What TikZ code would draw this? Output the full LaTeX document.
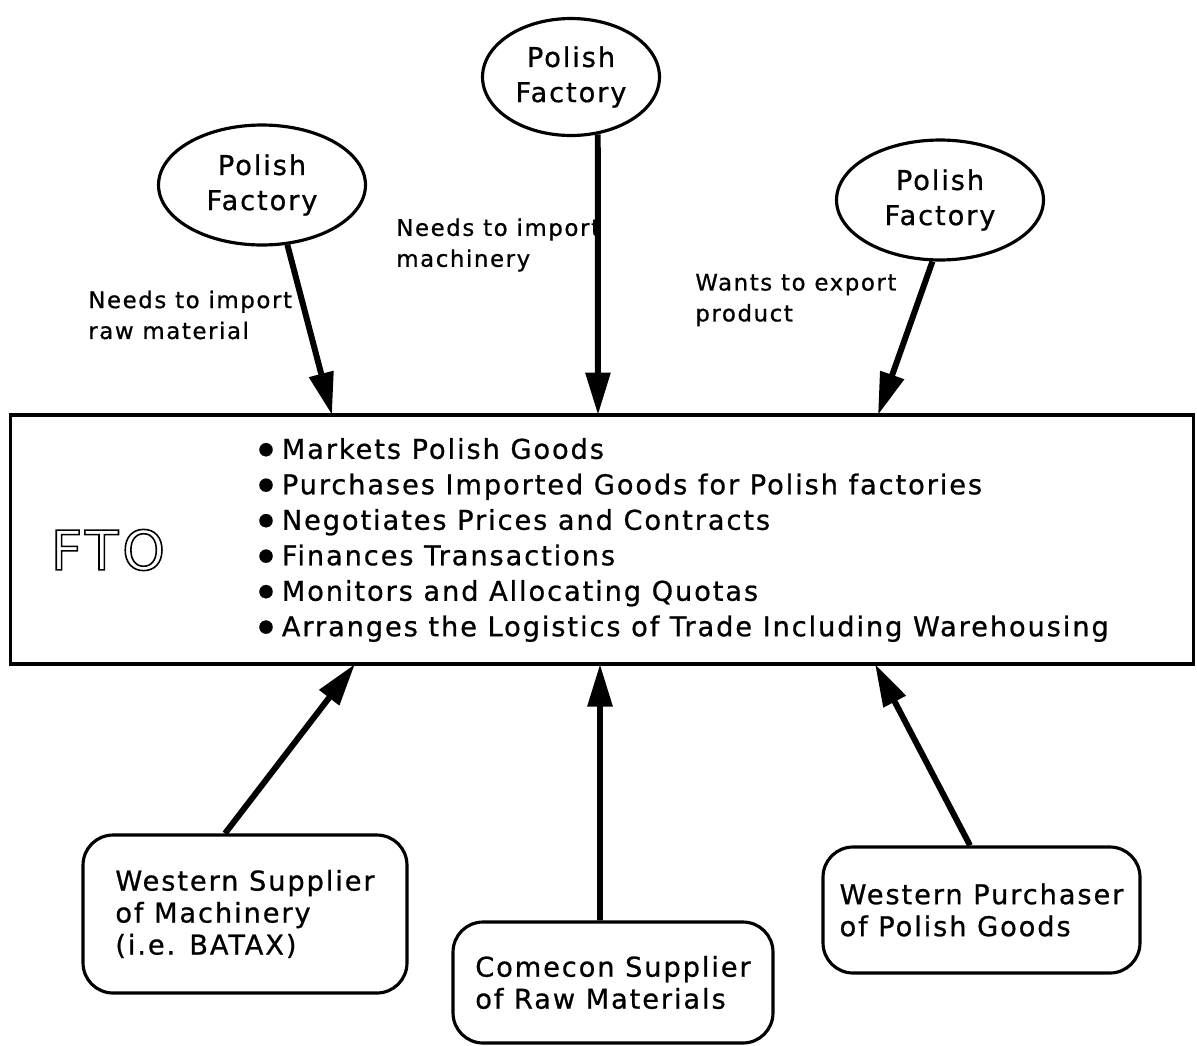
\documentclass[tikz,border=0pt]{standalone}
\usepackage{fontspec}
\setmainfont{DejaVu Sans}[LetterSpace = 7, FakeBold = 0.8]
\newfontfamily\ftofont{DejaVu Sans}[LetterSpace = 7]
\usetikzlibrary{shapes.geometric, arrows.meta}
\tikzset{>=latex}
\newcommand{\blt}{\raisebox{2.6pt}{\fontsize{10}{0}\selectfont ●}\hspace{0.3em}}
\newcommand{\hollow}[1]{{\special{pdf:literal direct 1 Tr 0.9 w}#1\special{pdf:literal direct 0 Tr}}}

\begin{document}
\begin{tikzpicture}[
    x = 0.02cm, y = -0.02cm,
    d0/.style = {line width = 1.8pt},
    fact/.style = {d0, draw, ellipse, minimum width = 4.14cm, minimum height = 2.4cm, align = center, inner sep = 0pt, font = \fontsize{15.5}{20}\selectfont},
    firm/.style = {d0, draw, rounded corners = 0.6cm, align = left, inner sep = 0pt, font = \fontsize{15.5}{18.2}\selectfont},
    ar/.style = {line width = 3.4pt, -{Triangle[length = 0.85cm, width = 0.48cm]}},
    lab/.style = {anchor = west, align = left, inner sep = 0pt, font = \fontsize{13}{17.6}\selectfont},
]
\useasboundingbox (0,0) rectangle (1197,1045);

% factories
\node[fact] (facA) at (262,185) {Polish\\Factory};
\node[fact, minimum width = 3.54cm, minimum height = 2.34cm] (facB) at (571,77) {Polish\\Factory};
\node[fact] (facC) at (940,200) {Polish\\Factory};

\node[lab] (labA) at (88,315) {Needs to import\\raw material};
\node[lab] (labB) at (396,245) {Needs to import\\machinery};
\node[lab] (labC) at (695,300) {Wants to export\\product};

% the FTO
\node[d0, draw, minimum width = 23.68cm, minimum height = 4.98cm, inner sep = 0pt] (fto) at (602,539.5) {};
\node[font = \ftofont\fontsize{31}{31}\selectfont, inner sep = 0pt] (ftoname) at (108,550) {\hollow{FTO}};
\node[anchor = west, align = left, inner sep = 0pt, font = \fontsize{15.5}{20.2}\selectfont] (tasks) at (258,540)
    {\blt Markets Polish Goods\\
     \blt Purchases Imported Goods for Polish factories\\
     \blt Negotiates Prices and Contracts\\
     \blt Finances Transactions\\
     \blt Monitors and Allocating Quotas\\
     \blt Arranges the Logistics of Trade Including Warehousing};

\coordinate (inA) at (332,415);
\coordinate (inB) at (598,415);
\coordinate (inC) at (878,415);
\coordinate (outA) at (355,664);
\coordinate (outB) at (600,664);
\coordinate (outC) at (875,664);

% partners
\node[firm, minimum width = 6.48cm, minimum height = 3.16cm] (westA) at (245,914) {Western Supplier\\of Machinery\\(i.e. BATAX)};
\node[firm, minimum width = 6.4cm, minimum height = 2.42cm] (comA) at (613,982.5) {Comecon Supplier\\of Raw Materials};
\node[firm, minimum width = 6.34cm, minimum height = 2.52cm] (westB) at (981.5,910) {Western Purchaser\\of Polish Goods};

\draw[ar] (facA.-67) -- (inA);
\draw[ar] (facB.-65) -- (inB);
\draw[ar] (facC.-97) -- (inC);
\draw[ar] ([xshift = -0.4cm]westA.north) -- (outA);
\draw[ar] ([xshift = -0.26cm]comA.north) -- (outB);
\draw[ar] ([xshift = -0.23cm]westB.north) -- (outC);
\end{tikzpicture}
\end{document}
